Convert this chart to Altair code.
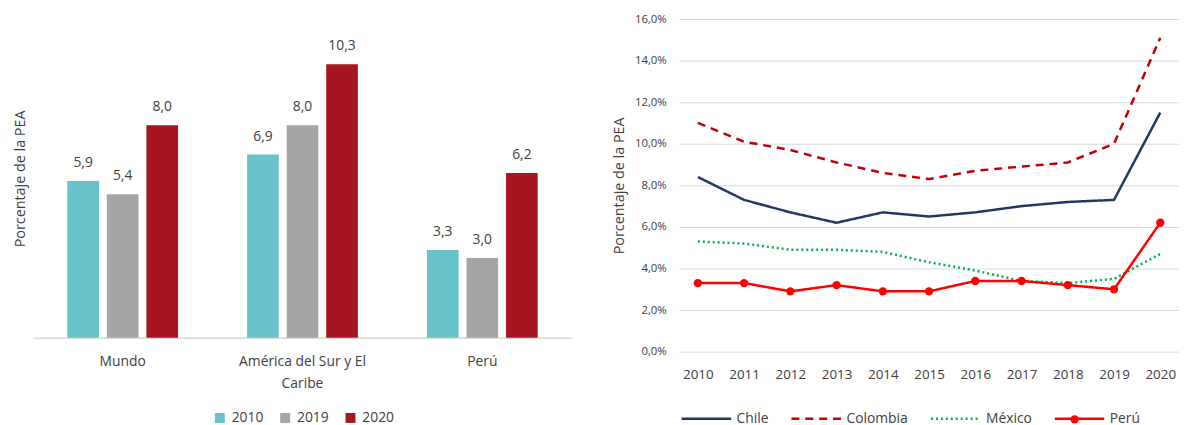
import altair as alt
import pandas as pd

# ---- Left chart data ----
regions = ["Mundo", "América del Sur y El Caribe", "Perú"]
bar_years = ["2010", "2019", "2020"]
v2010 = [5.9, 6.9, 3.3]
v2019 = [5.4, 8.0, 3.0]
v2020 = [8.0, 10.3, 6.2]

# ---- Right chart data ----
years = ["2010", "2011", "2012", "2013", "2014", "2015", "2016", "2017", "2018", "2019", "2020"]
countries = ["Chile", "Colombia", "México", "Perú"]
chile = [8.4, 7.3, 6.7, 6.2, 6.7, 6.5, 6.7, 7.0, 7.2, 7.3, 11.5]
colombia = [11.0, 10.1, 9.7, 9.1, 8.6, 8.3, 8.7, 8.9, 9.1, 10.0, 15.1]
mexico = [5.3, 5.2, 4.9, 4.9, 4.8, 4.3, 3.9, 3.4, 3.3, 3.5, 4.7]
peru = [3.3, 3.3, 2.9, 3.2, 2.9, 2.9, 3.4, 3.4, 3.2, 3.0, 6.2]

TXT = "#404040"
FONT = "Open Sans"

rows = []
for yr, vals in zip(bar_years, [v2010, v2019, v2020]):
    for r, v in zip(regions, vals):
        rows.append({"region": r, "anio": yr, "value": v})
bdf = pd.DataFrame(rows)

lrows = []
for c, vals in zip(countries, [chile, colombia, mexico, peru]):
    for y, v in zip(years, vals):
        lrows.append({"pais": c, "marca": c, "year": y, "value": v})
ldf = pd.DataFrame(lrows)

bar_colors = alt.Scale(domain=bar_years, range=["#67C2CB", "#A5A5A5", "#A6161F"])

xenc = alt.X(
    "region:N", sort=regions,
    scale=alt.Scale(paddingInner=0.34, paddingOuter=0.17),
    axis=alt.Axis(
        title=None, labelAngle=0, ticks=False, domainColor="#D9D9D9", domainWidth=1.5,
        labelFontSize=14, labelColor=TXT, labelPadding=17, labelLineHeight=22,
        labelExpr="datum.label == 'América del Sur y El Caribe' ? ['América del Sur y El', 'Caribe'] : datum.label",
    ),
)
xoff = alt.XOffset("anio:N", sort=bar_years, scale=alt.Scale(paddingInner=0.2, paddingOuter=0.1))
yenc = alt.Y(
    "value:Q", scale=alt.Scale(domain=[0, 12]),
    axis=alt.Axis(title="Porcentaje de la PEA", labels=False, ticks=False, domain=False, grid=False,
                  titlePadding=5, titleFontSize=14.5, titleColor=TXT, titleFontWeight="normal"),
)

bars = alt.Chart(bdf).mark_bar().encode(
    x=xenc, xOffset=xoff, y=yenc,
    color=alt.Color("anio:N", scale=bar_colors, sort=bar_years,
                    legend=alt.Legend(title=None, orient="none", legendX=182, legendY=396,
                                      direction="horizontal", symbolType="square", symbolSize=100,
                                      labelFontSize=14, labelColor=TXT, columnPadding=14,
                                      labelOffset=5, padding=0)),
)
labels = alt.Chart(bdf).transform_calculate(
    lab="replace(format(datum.value, '.1f'), '.', ',')"
).mark_text(dy=-18, fontSize=14, color=TXT, baseline="middle").encode(
    x=alt.X("region:N", sort=regions), xOffset=alt.XOffset("anio:N", sort=bar_years),
    y="value:Q", text="lab:N",
)
left = alt.layer(bars, labels).properties(width=545, height=322)

# ---- Right chart ----
line_color = alt.Scale(domain=countries, range=["#203864", "#C00000", "#00B050", "#FF0000"])
dash = alt.Scale(domain=countries, range=[[1, 0], [8, 6], [2, 3], [1, 0]])

rx = alt.X("year:O", sort=years, scale=alt.Scale(padding=0.405),
           axis=alt.Axis(title=None, labelAngle=0, ticks=False, domain=False, grid=False,
                         labelFontSize=13.5, labelColor=TXT, labelPadding=16))
ry = alt.Y("value:Q", scale=alt.Scale(domain=[0, 16]),
           axis=alt.Axis(title="Porcentaje de la PEA", values=[0, 2, 4, 6, 8, 10, 12, 14, 16],
                         labelExpr="replace(format(datum.value, '.1f'), '.', ',') + '%'",
                         ticks=False, domain=False, gridColor="#D9D9D9", gridWidth=1,
                         labelFontSize=11.5, labelColor=TXT, labelPadding=13,
                         titlePadding=8, titleFontSize=14.5, titleColor=TXT, titleFontWeight="normal"))

leg = alt.Legend(title=None, orient="none", legendX=1, legendY=377,
                 direction="horizontal", symbolSize=2500, symbolStrokeWidth=2.5,
                 labelFontSize=14, labelColor=TXT, columnPadding=17,
                 labelOffset=4, padding=0)
lines = alt.Chart(ldf).mark_line(strokeWidth=2.5).encode(
    x=rx, y=ry,
    color=alt.Color("pais:N", scale=line_color, sort=countries, legend=leg),
    strokeDash=alt.StrokeDash("pais:N", scale=dash, sort=countries, legend=leg),
)
# marker legend: circle overlaid on the Perú legend line
marker_leg = alt.Legend(title=None, orient="none", legendX=395, legendY=400, symbolSize=70,
                        symbolFillColor="#FF0000", symbolStrokeColor="#FF0000", symbolStrokeWidth=0,
                        symbolOpacity=1, labelOpacity=0, labelFontSize=1, labelOffset=0, padding=0)
pts = alt.Chart(ldf).transform_filter("datum.pais == 'Perú'").mark_point(
    size=70, opacity=1, filled=True, color="#FF0000"
).encode(
    x=alt.X("year:O", sort=years), y="value:Q",
    shape=alt.Shape("marca:N", scale=alt.Scale(domain=["Perú"], range=["circle"]), legend=marker_leg),
)
right = alt.layer(lines, pts).properties(width=505, height=336)

chart = alt.hconcat(left, right, spacing=108, bounds="flush").resolve_scale(
    color="independent", strokeDash="independent", shape="independent"
).resolve_legend(color="independent", strokeDash="independent", shape="independent").properties(
    padding={"left": 5, "top": 3, "right": 0, "bottom": 0}
).configure(font=FONT).configure_view(stroke=None)

chart.save("out.html", embed_options={"renderer": "svg", "actions": False})
